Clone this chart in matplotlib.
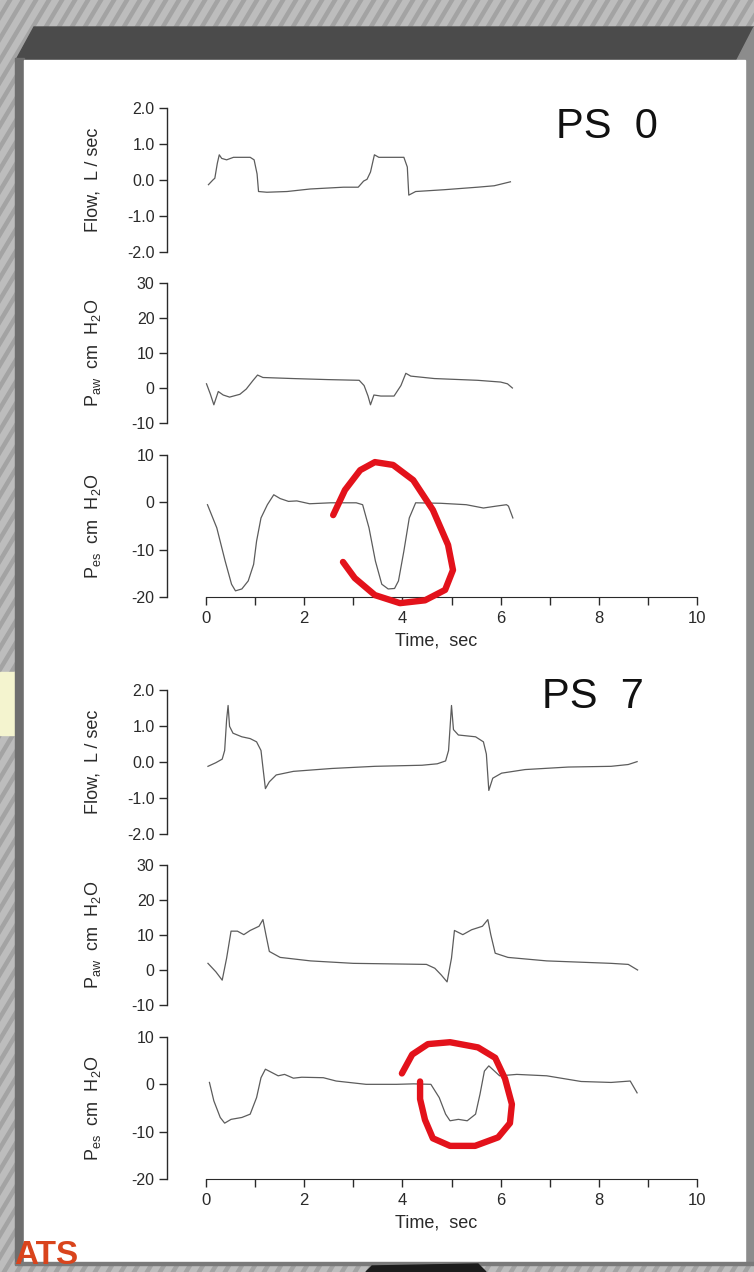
import matplotlib.pyplot as plt
from matplotlib.patches import Polygon, Rectangle

plt.rcParams['font.family'] = ['Liberation Sans', 'DejaVu Sans']
plt.rcParams['axes.unicode_minus'] = False
plt.rcParams['mathtext.fontset'] = 'custom'
plt.rcParams['mathtext.rm'] = 'Liberation Sans'
plt.rcParams['mathtext.it'] = 'Liberation Sans:italic'

W, H = 754, 1272

# ---- PS 0 recordings ----
ps0_flow_t = [0.05, 0.14, 0.18, 0.23, 0.27, 0.32, 0.42, 0.56, 0.90, 0.98,
              1.04, 1.07, 1.24, 1.65, 2.12, 2.80, 3.10, 3.21, 3.28, 3.35,
              3.43, 3.52, 4.03, 4.10, 4.13, 4.27, 4.85, 5.53, 5.87, 6.20]
ps0_flow = [-0.13, 0.0, 0.05, 0.46, 0.70, 0.60, 0.56, 0.63, 0.63, 0.56,
            0.17, -0.32, -0.34, -0.32, -0.25, -0.20, -0.20, -0.03, 0.02, 0.22,
            0.70, 0.63, 0.63, 0.36, -0.42, -0.32, -0.27, -0.20, -0.16, -0.05]

ps0_paw_t = [0.01, 0.09, 0.16, 0.25, 0.35, 0.48, 0.69, 0.82, 0.96, 1.05,
             1.16, 1.77, 2.48, 3.12, 3.22, 3.30, 3.35, 3.42, 3.56, 3.83,
             3.97, 4.07, 4.17, 4.65, 5.53, 6.00, 6.14, 6.24]
ps0_paw = [1.2, -1.8, -4.8, -1.0, -2.0, -2.6, -1.8, -0.3, 2.2, 3.7,
           3.0, 2.7, 2.4, 2.2, 0.7, -2.3, -4.8, -2.0, -2.3, -2.3,
           0.7, 4.2, 3.4, 2.7, 2.2, 1.7, 1.2, 0.0]

ps0_pes_t = [0.03, 0.22, 0.39, 0.52, 0.60, 0.73, 0.86, 0.97, 1.03, 1.12,
             1.25, 1.38, 1.51, 1.68, 1.85, 2.11, 2.54, 3.06, 3.19, 3.32,
             3.45, 3.58, 3.71, 3.84, 3.92, 4.03, 4.14, 4.27, 4.78, 5.30,
             5.65, 5.91, 6.12, 6.16, 6.25]
ps0_pes = [-0.5, -5.4, -12.4, -17.3, -18.7, -18.3, -16.6, -13.1, -8.2, -3.3,
           -0.5, 1.6, 0.8, 0.2, 0.3, -0.3, -0.1, -0.1, -0.5, -5.4,
           -12.4, -17.3, -18.3, -18.2, -16.6, -10.3, -3.3, -0.1, -0.2, -0.5,
           -1.2, -0.8, -0.5, -0.8, -3.3]

# ---- PS 7 recordings ----
ps7_flow_t = [0.04, 0.20, 0.33, 0.38, 0.42, 0.45, 0.48, 0.55, 0.73, 0.90,
              1.03, 1.12, 1.16, 1.21, 1.29, 1.43, 1.78, 2.56, 3.44, 4.40,
              4.71, 4.88, 4.94, 5.00, 5.04, 5.14, 5.49, 5.65, 5.71, 5.76,
              5.84, 6.02, 6.50, 7.38, 8.25, 8.60, 8.78]
ps7_flow = [-0.12, -0.02, 0.08, 0.32, 1.18, 1.57, 0.99, 0.80, 0.70, 0.65,
            0.56, 0.32, -0.16, -0.74, -0.55, -0.36, -0.26, -0.18, -0.12, -0.09,
            -0.05, 0.03, 0.32, 1.57, 0.90, 0.75, 0.70, 0.56, 0.22, -0.79,
            -0.45, -0.31, -0.21, -0.14, -0.12, -0.07, 0.01]

ps7_paw_t = [0.04, 0.20, 0.33, 0.42, 0.51, 0.64, 0.77, 0.90, 1.08, 1.16,
             1.22, 1.29, 1.51, 2.13, 3.00, 4.49, 4.66, 4.79, 4.91, 5.00,
             5.06, 5.23, 5.41, 5.63, 5.74, 5.80, 5.89, 6.15, 6.94, 8.25,
             8.60, 8.79]
ps7_paw = [1.9, -0.5, -2.9, 3.4, 11.1, 11.1, 10.1, 11.3, 12.5, 14.4,
           10.1, 5.3, 3.6, 2.6, 1.9, 1.6, 0.5, -1.4, -3.4, 3.4,
           11.3, 10.1, 11.5, 12.5, 14.4, 10.1, 4.8, 3.6, 2.6, 1.9,
           1.6, 0.0]

ps7_pes_t = [0.07, 0.16, 0.29, 0.38, 0.51, 0.73, 0.90, 1.03, 1.12, 1.21,
             1.34, 1.47, 1.60, 1.78, 1.95, 2.39, 2.65, 3.26, 3.88, 4.23,
             4.58, 4.75, 4.88, 4.97, 5.14, 5.32, 5.49, 5.58, 5.67, 5.76,
             5.98, 6.33, 6.94, 7.64, 8.25, 8.64, 8.78]
ps7_pes = [0.4, -3.5, -7.0, -8.2, -7.4, -7.0, -6.3, -2.8, 1.4, 3.2,
           2.5, 1.8, 2.1, 1.3, 1.5, 1.4, 0.7, 0.0, 0.0, 0.1,
           0.0, -2.8, -6.3, -7.7, -7.4, -7.7, -6.3, -2.1, 2.8, 3.9,
           1.8, 2.1, 1.8, 0.6, 0.4, 0.7, -1.8]

# hand-drawn red loops around the second breath (time, cm H2O)
loop0_t = [2.59, 2.83, 3.14, 3.44, 3.81, 4.22, 4.62, 4.93, 5.03, 4.87,
           4.46, 3.95, 3.44, 3.03, 2.79]
loop0_v = [-2.7, 2.6, 6.8, 8.5, 7.9, 4.7, -1.6, -9.0, -14.3, -18.5,
           -20.7, -21.3, -19.6, -16.0, -12.6]
loop7_t = [3.99, 4.20, 4.52, 4.97, 5.54, 5.89, 6.09, 6.23, 6.19, 5.95,
           5.48, 4.97, 4.62, 4.46, 4.36, 4.36]
loop7_v = [2.3, 6.3, 8.5, 8.9, 7.8, 5.6, 1.2, -4.2, -8.2, -11.2,
           -13.0, -13.0, -11.4, -7.5, -3.1, 0.6]

flow_ticks = [2.0, 1.0, 0.0, -1.0, -2.0]
flow_labels = ['2.0', '1.0', '0.0', '-1.0', '-2.0']
paw_ticks = [30, 20, 10, 0, -10]
pes_ticks = [10, 0, -10, -20]
time_ticks = list(range(11))
time_labels = ['0', '', '2', '', '4', '', '6', '', '8', '', '10']

TRACE = '#5c5c5c'
INK = '#2a2a2a'

# horizontal mapping: t=0 at x=206 px, t=10 at x=697 px
PX_PER_S = (697 - 206) / 10
AX_LEFT, AX_RIGHT = 167, 706
XLIM = ((AX_LEFT - 206) / PX_PER_S, 10 + (AX_RIGHT - 697) / PX_PER_S)


def panel(fig, top, bottom, ylim, yticks, ylabels, with_time=False):
    ax = fig.add_axes([AX_LEFT / W, 1 - bottom / H,
                       (AX_RIGHT - AX_LEFT) / W, (bottom - top) / H])
    ax.patch.set_alpha(0)
    ax.set_xlim(*XLIM)
    ax.set_ylim(*ylim)
    for side in ['top', 'right']:
        ax.spines[side].set_visible(False)
    ax.spines['left'].set_color(INK)
    ax.spines['left'].set_linewidth(1.0)
    ax.set_yticks(yticks)
    ax.set_yticklabels(ylabels)
    ax.tick_params(axis='y', direction='out', length=6, width=1.0,
                   color=INK, labelcolor=INK, labelsize=11.5, pad=3)
    if with_time:
        ax.spines['bottom'].set_bounds(0, 10)
        ax.spines['bottom'].set_color(INK)
        ax.set_xticks(time_ticks)
        ax.set_xticklabels(time_labels)
        ax.tick_params(axis='x', direction='out', length=6, width=1.0,
                       color=INK, labelcolor=INK, labelsize=12, pad=4)
        ax.set_xlabel('Time,  sec', fontsize=13, color=INK, labelpad=5)
    else:
        ax.spines['bottom'].set_visible(False)
        ax.set_xticks([])
    return ax


def backdrop(bg):
    bg.set_xlim(0, W)
    bg.set_ylim(H, 0)
    bg.axis('off')
    bg.add_patch(Rectangle((0, 0), W, H, color='#bdbdbd', zorder=0))
    # newsprint-like diagonal streaks behind the slide
    for k in range(-1400, W + 40, 13):
        bg.plot([k, k + 760], [H, 0], color='#8e8e8e', lw=3.2, alpha=0.55,
                zorder=1)
    bg.add_patch(Rectangle((0, 672), 15, 63, color='#f4f4cf', zorder=2))
    # slide frame: dark header bar, side borders and white page
    bg.add_patch(Polygon([(16, 60), (34, 27), (754, 27), (737, 60)],
                         closed=True, color='#4b4b4b', zorder=3))
    bg.add_patch(Rectangle((15, 58), 9, 1206, color='#6e6e6e', zorder=3))
    bg.add_patch(Polygon([(737, 60), (754, 27), (754, 1264), (745, 1264)],
                         closed=True, color='#8c8c8c', zorder=3))
    bg.add_patch(Rectangle((24, 60), 721, 1202, color='white', zorder=4))
    bg.add_patch(Rectangle((15, 1262), 739, 3, color='#7a7a7a', zorder=4))
    bg.add_patch(Polygon([(372, 1266), (478, 1264), (486, 1272), (366, 1272)],
                         closed=True, color='#1c1c1c', zorder=4))
    bg.text(14, 1271, 'ATS', color='#d9441c', fontsize=24,
            fontweight='bold', ha='left', va='bottom', zorder=5)


def block(fig, bg, y0, name, name_xy, flow, paw, pes, loop, paw_sub):
    ax_f = panel(fig, y0, y0 + 144, (-2, 2), flow_ticks, flow_labels)
    ax_p = panel(fig, y0 + 175, y0 + 315, (-10, 30), paw_ticks,
                 [str(v) for v in paw_ticks])
    ax_e = panel(fig, y0 + 347, y0 + 489, (-20, 10), pes_ticks,
                 [str(v) for v in pes_ticks], with_time=True)

    ax_f.plot(flow[0], flow[1], color=TRACE, lw=0.9)
    ax_p.plot(paw[0], paw[1], color=TRACE, lw=0.9)
    ax_e.plot(pes[0], pes[1], color=TRACE, lw=0.9)
    ax_e.plot(loop[0], loop[1], color='#e3121b', lw=4.6,
              solid_capstyle='round', solid_joinstyle='round',
              clip_on=False, zorder=5)

    # rotated axis titles
    bg.text(93, y0 + 72, 'Flow,  L / sec', rotation=90, fontsize=13,
            color=INK, ha='center', va='center', zorder=6)
    bg.text(93, y0 + 245, r'P$_{\mathrm{' + paw_sub + r'}}$  cm  H$_2$O',
            rotation=90, fontsize=13, color=INK, ha='center', va='center',
            zorder=6)
    bg.text(93, y0 + 418, r'P$_{\mathrm{es}}$  cm  H$_2$O', rotation=90,
            fontsize=13, color=INK, ha='center', va='center', zorder=6)
    bg.text(name_xy[0], name_xy[1], name, fontsize=30, color='#111111',
            ha='left', va='center', zorder=6)


def main():
    fig = plt.figure(figsize=(W / 100, H / 100), dpi=100)
    bg = fig.add_axes([0, 0, 1, 1], zorder=-1)
    backdrop(bg)

    block(fig, bg, 108, 'PS  0', (556, 127),
          (ps0_flow_t, ps0_flow), (ps0_paw_t, ps0_paw),
          (ps0_pes_t, ps0_pes), (loop0_t, loop0_v), 'aw')
    block(fig, bg, 690, 'PS  7', (542, 697),
          (ps7_flow_t, ps7_flow), (ps7_paw_t, ps7_paw),
          (ps7_pes_t, ps7_pes), (loop7_t, loop7_v), 'aw')

    fig.savefig('out.png', dpi=100)


if __name__ == "__main__":
    main()
